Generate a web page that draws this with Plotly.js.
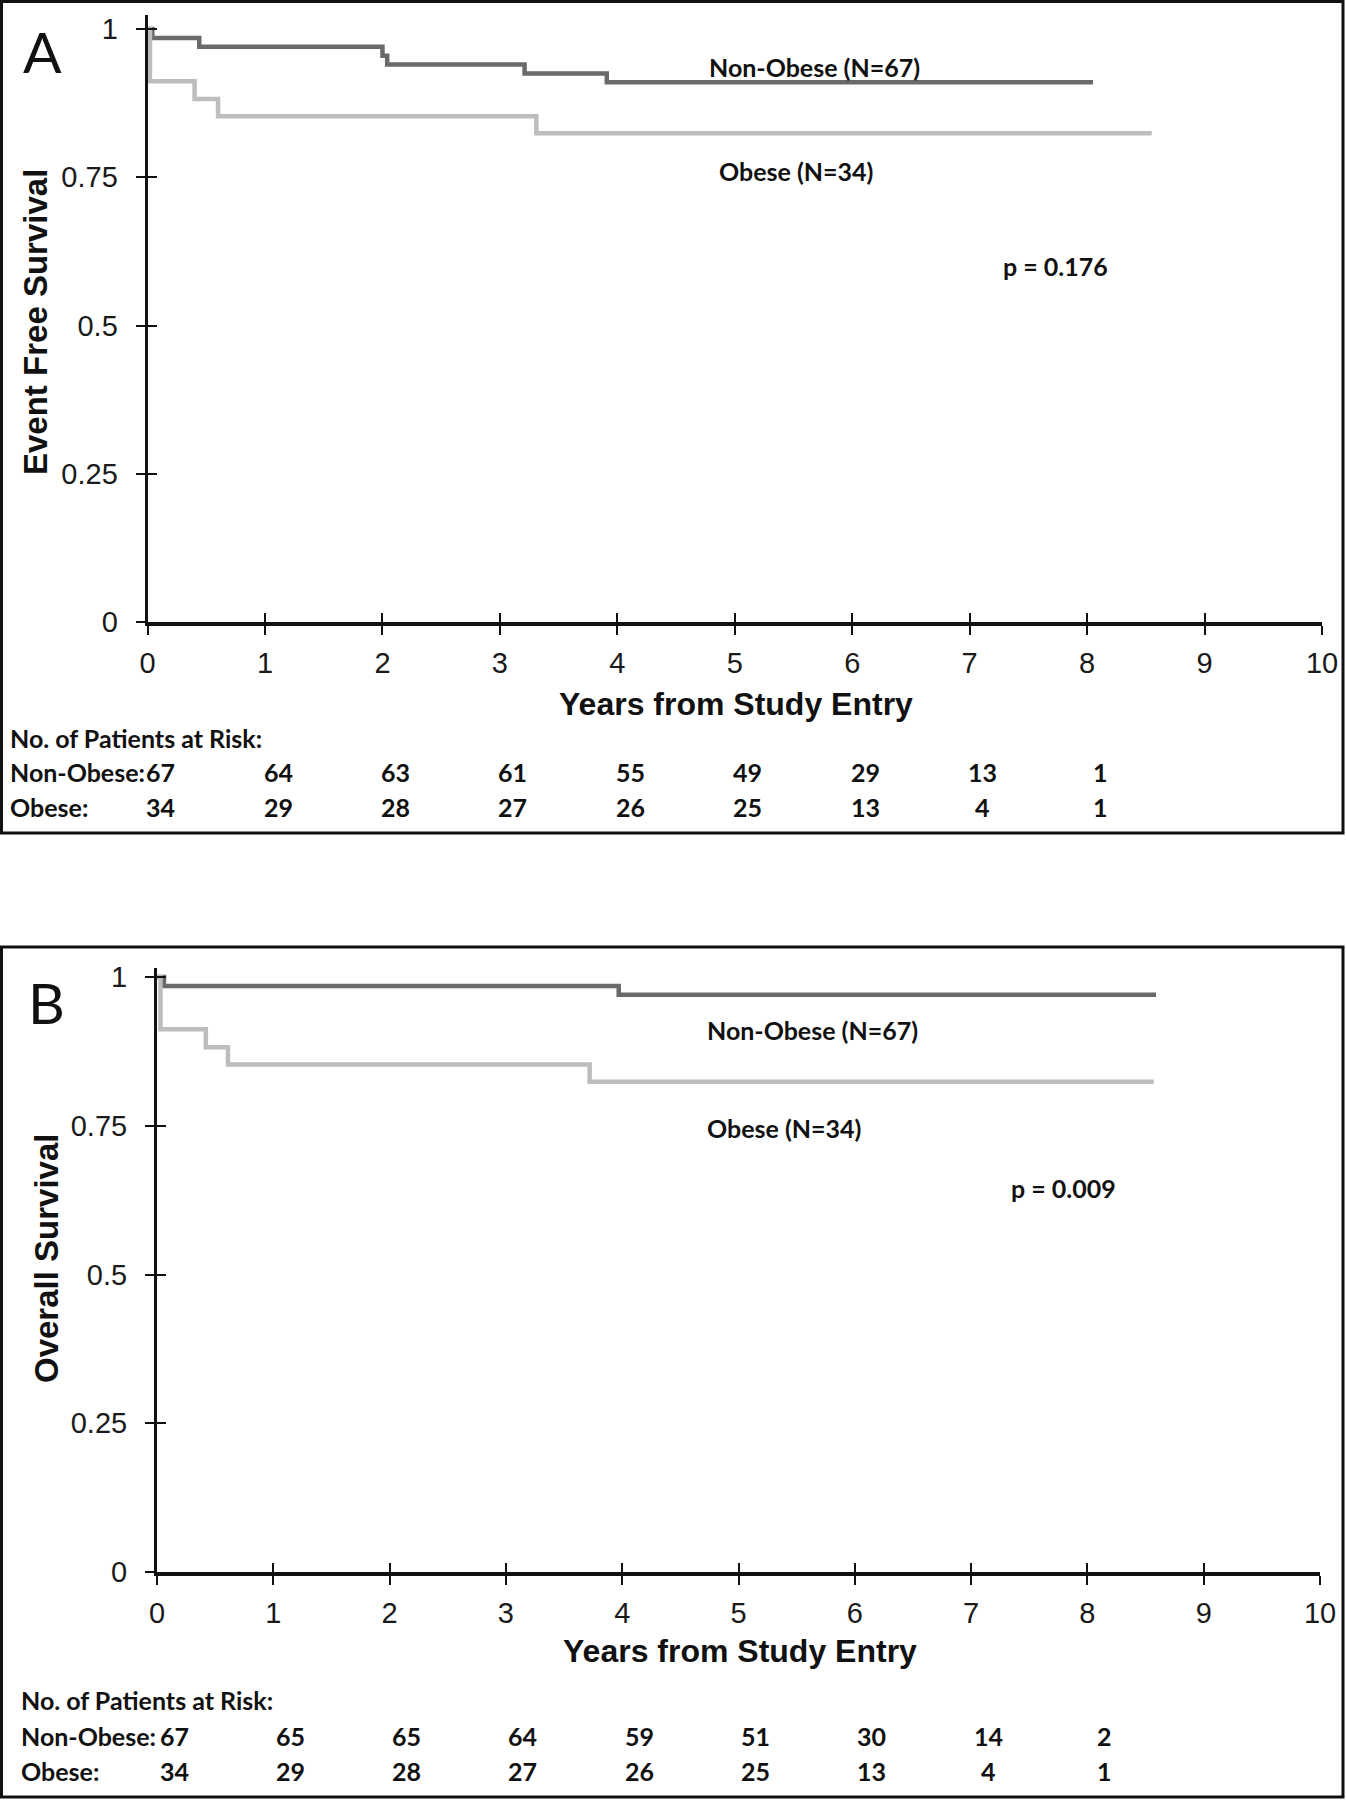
<!DOCTYPE html>
<html>
<head>
<meta charset="utf-8">
<script src="https://cdn.plot.ly/plotly-3.0.1.min.js"></script>
<style>
html,body{margin:0;padding:0;background:#fff;}
#chart{width:1346px;height:1800px;}
</style>
</head>
<body>
<div id="chart"></div>
<script>
// ---------------- Data ----------------
// Panel A: Event free survival (Kaplan-Meier step points)
const timesA_nonObese = [0, 0.04, 0.44, 2.00, 2.04, 3.21, 3.91, 8.05];
const survA_nonObese  = [1, 0.985, 0.970, 0.955, 0.940, 0.925, 0.910, 0.910];
const timesA_obese    = [0, 0.02, 0.40, 0.60, 3.31, 8.55];
const survA_obese     = [1, 0.912, 0.882, 0.853, 0.824, 0.824];

// Panel B: Overall survival
const timesB_nonObese = [0, 0.06, 3.97, 8.59];
const survB_nonObese  = [1, 0.985, 0.970, 0.970];
const timesB_obese    = [0, 0.03, 0.42, 0.61, 3.72, 8.57];
const survB_obese     = [1, 0.912, 0.882, 0.853, 0.824, 0.824];

// Numbers at risk
const riskYears       = [0, 1, 2, 3, 4, 5, 6, 7, 8];
const riskA_nonObese  = [67, 64, 63, 61, 55, 49, 29, 13, 1];
const riskA_obese     = [34, 29, 28, 27, 26, 25, 13, 4, 1];
const riskB_nonObese  = [67, 65, 65, 64, 59, 51, 30, 14, 2];
const riskB_obese     = [34, 29, 28, 27, 26, 25, 13, 4, 1];

// Tick labels
const xTickVals = [0,1,2,3,4,5,6,7,8,9,10];
const yTickVals = [0, 0.25, 0.5, 0.75, 1];
const yTickText = ['0', '0.25', '0.5', '0.75', '1'];

// Texts
const labelNonObese = 'Non-Obese (N=67)';
const labelObese = 'Obese (N=34)';
const pValueA = 'p = 0.176';
const pValueB = 'p = 0.009';

// ---------------- Layout helpers ----------------
const W = 1346, H = 1800;
const px = v => v / W;
const py = v => 1 - v / H;

const DARK = '#6a6a6a';
const LIGHT = '#bdbdbd';
const ARIAL = 'Liberation Sans, Arial, sans-serif';
const CAL = 'Lato, Open Sans, sans-serif';

const traces = [
  {x: timesA_nonObese, y: survA_nonObese, xaxis:'x', yaxis:'y', mode:'lines',
   line:{shape:'hv', color:DARK, width:4.5}, name:labelNonObese, hoverinfo:'skip'},
  {x: timesA_obese, y: survA_obese, xaxis:'x', yaxis:'y', mode:'lines',
   line:{shape:'hv', color:LIGHT, width:4.5}, name:labelObese, hoverinfo:'skip'},
  {x: timesB_nonObese, y: survB_nonObese, xaxis:'x2', yaxis:'y2', mode:'lines',
   line:{shape:'hv', color:DARK, width:4.5}, name:labelNonObese, hoverinfo:'skip'},
  {x: timesB_obese, y: survB_obese, xaxis:'x2', yaxis:'y2', mode:'lines',
   line:{shape:'hv', color:LIGHT, width:4.5}, name:labelObese, hoverinfo:'skip'},
  // helper (empty) traces for the crossing tick axes
  {x:[], y:[], xaxis:'x3', yaxis:'y', mode:'lines', hoverinfo:'skip'},
  {x:[], y:[], xaxis:'x', yaxis:'y3', mode:'lines', hoverinfo:'skip'},
  {x:[], y:[], xaxis:'x4', yaxis:'y2', mode:'lines', hoverinfo:'skip'},
  {x:[], y:[], xaxis:'x2', yaxis:'y4', mode:'lines', hoverinfo:'skip'}
];

// geometry (pixels of the 1346x1800 page)
const A = {x0:147.6, x1:1322, y0:622, ytop:15, perUnit:593};
const B = {x0:157, x1:1320, y0:1572, ytop:968, perUnit:595};

function xMain(g, anchor){
  return {domain:[px(g.x0), px(g.x1)], range:[0,10], anchor:anchor,
    tickmode:'array', tickvals:xTickVals, ticktext:xTickVals.map(String),
    ticks:'outside', ticklen:9, tickwidth:2, tickcolor:'#111',
    showline:true, linecolor:'#111', linewidth:3.5, showgrid:false, zeroline:false,
    tickfont:{family:ARIAL, size:29, color:'#1a1a1a'}, ticklabelstandoff:4, fixedrange:true};
}
function yMain(g, anchor){
  return {domain:[py(g.y0), py(g.ytop)], range:[0,(g.y0-g.ytop)/g.perUnit], anchor:anchor,
    tickmode:'array', tickvals:yTickVals, ticktext:yTickText,
    ticks:'outside', ticklen:9, tickwidth:2, tickcolor:'#111',
    showline:true, linecolor:'#111', linewidth:3, showgrid:false, zeroline:false,
    tickfont:{family:ARIAL, size:29, color:'#1a1a1a'}, ticklabelstandoff:12, fixedrange:true};
}
function xInside(g, over, anchor){
  return {domain:[px(g.x0), px(g.x1)], range:[0,10], overlaying:over, anchor:anchor, side:'bottom',
    tickmode:'array', tickvals:xTickVals, ticks:'inside', ticklen:9, tickwidth:2, tickcolor:'#111',
    showticklabels:false, showline:false, showgrid:false, zeroline:false, fixedrange:true};
}
function yInside(g, over, anchor){
  return {domain:[py(g.y0), py(g.ytop)], range:[0,(g.y0-g.ytop)/g.perUnit], overlaying:over, anchor:anchor, side:'left',
    tickmode:'array', tickvals:yTickVals, ticks:'inside', ticklen:9, tickwidth:2, tickcolor:'#111',
    showticklabels:false, showline:false, showgrid:false, zeroline:false, fixedrange:true};
}

const annotations = [];
function txt(text, x, y, size, opts){
  annotations.push(Object.assign({text:text, x:px(x), y:py(y), xref:'paper', yref:'paper',
    xanchor:'left', yanchor:'middle', showarrow:false,
    font:{family:CAL, size:size, color:'#111'}}, opts||{}));
}

// Panel letters
txt('A', 21, 51, 57, {font:{family:CAL, size:57, color:'#111'}});
txt('B', 26, 1002, 57, {font:{family:CAL, size:57, color:'#111'}});

// Curve labels & p-values
txt('<b>'+labelNonObese+'</b>', 707, 67, 25);
txt('<b>'+labelObese+'</b>', 717, 171, 25);
txt('<b>'+pValueA+'</b>', 1001, 266, 25);
txt('<b>'+labelNonObese+'</b>', 705, 1030, 25);
txt('<b>'+labelObese+'</b>', 705, 1128, 25);
txt('<b>'+pValueB+'</b>', 1009, 1188, 25);

// Axis titles
function axTitle(text, x, y, angle, size){
  annotations.push({text:'<b>'+text+'</b>', x:px(x), y:py(y), xref:'paper', yref:'paper',
    xanchor:'center', yanchor:'middle', showarrow:false, textangle:angle,
    font:{family:ARIAL, size:size, color:'#111'}});
}
axTitle('Event Free Survival', 35, 322, -90, 33);
axTitle('Overall Survival', 46, 1259, -90, 33);
axTitle('Years from Study Entry', 736, 704, 0, 32);
axTitle('Years from Study Entry', 740, 1651, 0, 32);

// Risk table
function riskTable(left, yHead, yRow1, yRow2, xref, vals1, vals2, shift){
  txt('<b>No. of Patients at Risk:</b>', left, yHead, 25);
  txt('<b>Non-Obese:</b>', left, yRow1, 25);
  txt('<b>Obese:</b>', left, yRow2, 25);
  riskYears.forEach((yr, i) => {
    annotations.push({text:'<b>'+vals1[i]+'</b>', x:yr, xref:xref, y:py(yRow1), yref:'paper',
      xanchor:'center', yanchor:'middle', xshift:shift, showarrow:false,
      font:{family:CAL, size:25, color:'#111'}});
    annotations.push({text:'<b>'+vals2[i]+'</b>', x:yr, xref:xref, y:py(yRow2), yref:'paper',
      xanchor:'center', yanchor:'middle', xshift:shift, showarrow:false,
      font:{family:CAL, size:25, color:'#111'}});
  });
}
riskTable(8, 738, 772, 807, 'x', riskA_nonObese, riskA_obese, 13);
riskTable(19, 1700, 1736, 1771, 'x2', riskB_nonObese, riskB_obese, 17);

// Panel frames
const shapes = [
  {type:'rect', xref:'paper', yref:'paper', x0:px(1.5), x1:px(1343), y0:py(833), y1:py(1.5),
   line:{color:'#111', width:3}, fillcolor:'rgba(0,0,0,0)', layer:'below'},
  {type:'rect', xref:'paper', yref:'paper', x0:px(1.5), x1:px(1343), y0:py(1797), y1:py(947),
   line:{color:'#111', width:3}, fillcolor:'rgba(0,0,0,0)', layer:'below'}
];

const layout = {
  width:W, height:H, margin:{l:0, r:0, t:0, b:0, pad:0},
  paper_bgcolor:'#fff', plot_bgcolor:'rgba(0,0,0,0)', showlegend:false,
  xaxis: xMain(A, 'y'), yaxis: yMain(A, 'x'),
  xaxis2: xMain(B, 'y2'), yaxis2: yMain(B, 'x2'),
  xaxis3: xInside(A, 'x', 'y'), yaxis3: yInside(A, 'y', 'x'),
  xaxis4: xInside(B, 'x2', 'y2'), yaxis4: yInside(B, 'y2', 'x2'),
  annotations: annotations, shapes: shapes
};

Plotly.newPlot('chart', traces, layout, {staticPlot:true, displayModeBar:false});
</script>
</body>
</html>
